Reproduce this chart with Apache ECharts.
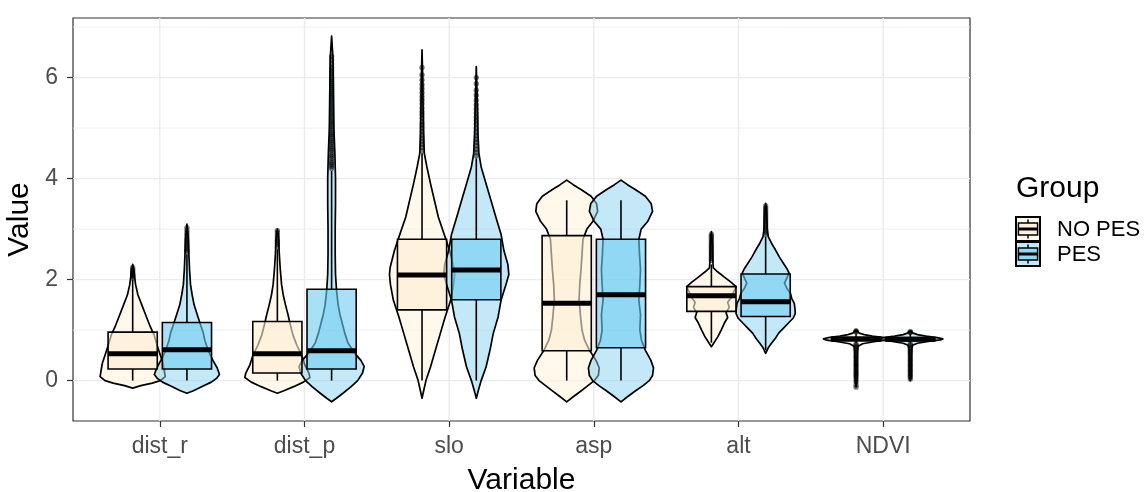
<!DOCTYPE html>
<html><head><meta charset="utf-8">
<script src="https://cdn.jsdelivr.net/npm/echarts@6/dist/echarts.min.js"></script>
<style>html,body{margin:0;padding:0;background:#fff}#c{width:1145px;height:492px}</style>
</head><body><div id="c"></div>
<script>
// ---------- data ----------
const categories = ['dist_r', 'dist_p', 'slo', 'asp', 'alt', 'NDVI'];
const groups = ['NO PES', 'PES'];
const yTicks = [0, 2, 4, 6];
const yMinorTicks = [1, 3, 5, 7];

// boxplot stats: [lower whisker, Q1, median, Q3, upper whisker]
const boxNoPes = [
  [0.0, 0.23, 0.53, 0.96, 2.0],
  [0.0, 0.15, 0.53, 1.17, 2.6],
  [0.0, 1.40, 2.09, 2.80, 4.5],
  [0.0, 0.59, 1.53, 2.87, 3.57],
  [0.75, 1.37, 1.68, 1.86, 2.3],
  [0.74, 0.79, 0.825, 0.855, 0.92]
];
const boxPes = [
  [0.0, 0.23, 0.61, 1.15, 2.5],
  [0.0, 0.23, 0.59, 1.81, 4.15],
  [0.0, 1.60, 2.19, 2.80, 4.4],
  [0.0, 0.65, 1.70, 2.80, 3.57],
  [0.6, 1.27, 1.56, 2.11, 2.85],
  [0.74, 0.79, 0.82, 0.85, 0.92]
];

// violin density profiles: [value, relative density 0..1]
const violinNoPes = [
  [[-0.15,0],[-0.1,0.25],[-0.05,0.6],[0,0.85],[0.08,1],[0.2,0.97],[0.35,0.93],[0.5,0.85],[0.7,0.75],[0.9,0.66],[1.1,0.52],[1.3,0.4],[1.5,0.28],[1.7,0.16],[1.9,0.09],[2.1,0.05],[2.3,0]],
  [[-0.25,0],[-0.2,0.2],[-0.12,0.5],[-0.03,0.8],[0.06,1],[0.15,0.97],[0.3,0.85],[0.5,0.75],[0.7,0.6],[0.9,0.48],[1.1,0.4],[1.3,0.33],[1.5,0.25],[1.7,0.18],[1.9,0.13],[2.2,0.09],[2.5,0.06],[2.8,0.04],[3.0,0]],
  [[-0.35,0],[-0.2,0.05],[0,0.12],[0.27,0.26],[0.6,0.41],[0.93,0.56],[1.26,0.71],[1.59,0.88],[1.9,0.97],[2.1,1],[2.24,0.98],[2.57,0.85],[2.9,0.68],[3.24,0.5],[3.57,0.38],[3.9,0.26],[4.23,0.15],[4.5,0.07],[4.9,0.045],[5.5,0.03],[6.0,0.02],[6.55,0]],
  [[-0.42,0],[-0.32,0.2],[-0.2,0.45],[-0.1,0.65],[0,0.85],[0.1,0.97],[0.25,1],[0.4,0.9],[0.6,0.7],[0.8,0.55],[1.0,0.47],[1.3,0.42],[1.6,0.38],[1.9,0.4],[2.2,0.44],[2.5,0.47],[2.8,0.5],[3.0,0.62],[3.15,0.8],[3.35,0.95],[3.5,0.92],[3.65,0.75],[3.78,0.45],[3.88,0.2],[3.97,0]],
  [[0.67,0],[0.74,0.07],[0.87,0.2],[1.0,0.3],[1.14,0.4],[1.25,0.5],[1.35,0.45],[1.45,0.55],[1.55,0.5],[1.65,0.62],[1.75,0.68],[1.86,0.76],[1.95,0.6],[2.05,0.4],[2.15,0.2],[2.23,0.06],[2.4,0.04],[2.7,0.03],[2.95,0]],
  [[-0.13,0],[0.0,0.03],[0.3,0.03],[0.6,0.04],[0.68,0.06],[0.73,0.2],[0.77,0.55],[0.8,0.9],[0.825,1],[0.85,0.85],[0.88,0.5],[0.91,0.25],[0.94,0.1],[1.0,0]]
];
const violinPes = [
  [[-0.25,0],[-0.2,0.2],[-0.12,0.45],[-0.03,0.75],[0.05,0.92],[0.12,1],[0.25,0.93],[0.4,0.8],[0.6,0.65],[0.8,0.55],[0.95,0.5],[1.1,0.42],[1.28,0.33],[1.5,0.22],[1.7,0.16],[1.9,0.11],[2.2,0.08],[2.5,0.06],[2.8,0.04],[3.1,0]],
  [[-0.42,0],[-0.35,0.15],[-0.25,0.35],[-0.12,0.6],[0,0.8],[0.15,0.95],[0.28,1],[0.4,0.9],[0.55,0.7],[0.75,0.5],[0.95,0.4],[1.15,0.32],[1.3,0.26],[1.5,0.2],[1.8,0.15],[2.1,0.12],[2.5,0.11],[3.0,0.11],[3.5,0.12],[4.0,0.12],[4.5,0.1],[5.0,0.07],[5.5,0.06],[6.0,0.05],[6.4,0.04],[6.82,0]],
  [[-0.35,0],[-0.2,0.06],[0,0.15],[0.27,0.3],[0.6,0.42],[0.93,0.52],[1.26,0.67],[1.59,0.76],[1.9,0.91],[2.1,1],[2.3,0.97],[2.57,0.85],[2.9,0.76],[3.24,0.6],[3.57,0.45],[3.9,0.3],[4.23,0.15],[4.5,0.08],[4.9,0.05],[5.5,0.03],[6.22,0]],
  [[-0.42,0],[-0.32,0.2],[-0.2,0.45],[-0.1,0.68],[0,0.87],[0.1,0.97],[0.25,1],[0.4,0.92],[0.6,0.75],[0.8,0.63],[1.0,0.58],[1.3,0.6],[1.6,0.55],[1.9,0.58],[2.2,0.6],[2.5,0.57],[2.8,0.55],[3.0,0.62],[3.15,0.82],[3.35,0.97],[3.5,0.93],[3.65,0.75],[3.78,0.45],[3.88,0.2],[3.97,0]],
  [[0.54,0],[0.65,0.08],[0.74,0.18],[0.84,0.3],[0.94,0.4],[1.04,0.55],[1.14,0.7],[1.24,0.85],[1.33,0.91],[1.43,0.9],[1.53,0.88],[1.63,0.8],[1.73,0.76],[1.83,0.65],[1.93,0.58],[2.03,0.65],[2.13,0.72],[2.22,0.65],[2.32,0.55],[2.45,0.42],[2.59,0.3],[2.72,0.18],[2.85,0.08],[3.0,0.05],[3.3,0.03],[3.51,0]],
  [[0.0,0],[0.1,0.03],[0.4,0.03],[0.62,0.04],[0.7,0.07],[0.74,0.22],[0.78,0.6],[0.805,0.92],[0.825,1],[0.85,0.82],[0.88,0.48],[0.91,0.22],[0.94,0.09],[0.98,0]]
];

// boxplot outliers
const outliersNoPes = [
  [2.03, 2.06, 2.08, 2.1, 2.12, 2.14, 2.17, 2.2, 2.24],
  [2.65, 2.7, 2.74, 2.78, 2.83, 2.88, 2.93, 2.97],
  [4.55, 4.62, 4.68, 4.74, 4.8, 4.86, 4.93, 5.0, 5.06, 5.12, 5.2, 5.27, 5.33, 5.4, 5.48, 5.55, 5.62, 5.7, 5.78, 5.86, 5.95, 6.05, 6.2],
  [],
  [2.38, 2.42, 2.46, 2.5, 2.54, 2.58, 2.62, 2.66, 2.7, 2.74, 2.78, 2.82, 2.86, 2.9],
  [-0.13, -0.08, -0.02, 0.03, 0.08, 0.11, 0.15, 0.18, 0.22, 0.26, 0.3, 0.33, 0.37, 0.41, 0.45, 0.48, 0.52, 0.56, 0.6, 0.63, 0.67, 0.7, 0.72, 0.96, 0.97, 0.99]
];
const outliersPes = [
  [2.55, 2.58, 2.62, 2.66, 2.7, 2.74, 2.78, 2.82, 2.87, 2.92, 2.97, 3.03],
  [4.2, 4.24, 4.28, 4.31, 4.35, 4.4, 4.44, 4.47, 4.52, 4.56, 4.6, 4.63, 4.68, 4.72, 4.75, 4.8, 4.84, 4.88, 4.91, 4.96, 5.0, 5.04, 5.08, 5.12, 5.15, 5.2, 5.24, 5.28, 5.32, 5.36, 5.4, 5.44, 5.48, 5.52, 5.56, 5.6, 5.64, 5.68, 5.72, 5.76, 5.8, 5.84, 5.88, 5.92, 5.96, 6.0, 6.05, 6.1, 6.15, 6.2, 6.27, 6.35, 6.42],
  [4.45, 4.52, 4.58, 4.65, 4.72, 4.78, 4.85, 4.92, 5.0, 5.08, 5.15, 5.22, 5.3, 5.38, 5.46, 5.55, 5.65, 5.75, 5.88, 6.0],
  [],
  [2.9, 2.94, 2.98, 3.02, 3.06, 3.1, 3.14, 3.18, 3.22, 3.26, 3.3, 3.34, 3.38, 3.42, 3.46],
  [0.03, 0.07, 0.1, 0.14, 0.18, 0.21, 0.25, 0.29, 0.32, 0.36, 0.4, 0.43, 0.47, 0.51, 0.55, 0.58, 0.62, 0.66, 0.7, 0.72, 0.95, 0.96, 0.97]
];

// ---------- styling ----------
const FONT = '"Liberation Sans", Arial, sans-serif';
const DODGE = 0.1875, VIOLIN_HALF = 0.225, BOX_HALF = 0.17;
const violinFill = ['rgba(255,243,218,0.55)', 'rgba(135,212,242,0.5)'];
const boxFill = ['rgba(255,238,210,0.6)', 'rgba(110,205,242,0.6)'];
const catIdx = categories.map((c, i) => i);

function gridLineSeries(vals, horizontal, width) {
  return {
    type: 'custom', silent: true, z: 1,
    data: vals.map(v => horizontal ? [0, v] : [v, 0]),
    renderItem(params, api) {
      const cs = params.coordSys;
      if (horizontal) {
        const y = api.coord([0, api.value(1)])[1];
        return { type: 'line', shape: { x1: cs.x, y1: y, x2: cs.x + cs.width, y2: y }, style: { stroke: '#EBEBEB', lineWidth: width } };
      }
      const x = api.coord([api.value(0), 0])[0];
      return { type: 'line', shape: { x1: x, y1: cs.y, x2: x, y2: cs.y + cs.height }, style: { stroke: '#EBEBEB', lineWidth: width } };
    }
  };
}

function violinSeries(name, profiles, off, fill) {
  return {
    name, type: 'custom', z: 2,
    data: profiles.map((p, i) => [i, p[0][0]]),
    renderItem(params, api) {
      const prof = profiles[params.dataIndex];
      const cat = api.value(0);
      const bw = api.size([1, 0])[0];
      const cx = api.coord([cat, 0])[0] + off * bw;
      const r = [], l = [];
      for (const [v, d] of prof) {
        const y = api.coord([cat, v])[1];
        r.push([cx + d * VIOLIN_HALF * bw, y]);
        l.push([cx - d * VIOLIN_HALF * bw, y]);
      }
      return { type: 'polygon', shape: { points: r.concat(l.reverse()) },
        style: { fill, stroke: '#000', lineWidth: 1.7, lineJoin: 'round' } };
    }
  };
}

function boxSeries(name, boxes, outliers, off, fill) {
  return {
    name, type: 'custom', z: 3,
    data: boxes.map((b, i) => [i].concat(b)),
    renderItem(params, api) {
      const cat = api.value(0);
      const lo = api.value(1), q1 = api.value(2), med = api.value(3), q3 = api.value(4), hi = api.value(5);
      const bw = api.size([1, 0])[0];
      const cx = api.coord([cat, 0])[0] + off * bw;
      const hw = BOX_HALF * bw;
      const Y = v => api.coord([cat, v])[1];
      const children = outliers[params.dataIndex].map(v => ({
        type: 'circle', shape: { cx, cy: Y(v), r: 2.7 }, style: { fill: 'rgba(0,0,0,0.5)' } }));
      children.push({ type: 'line', shape: { x1: cx, y1: Y(q3), x2: cx, y2: Y(hi) }, style: { stroke: '#000', lineWidth: 1.6 } });
      children.push({ type: 'line', shape: { x1: cx, y1: Y(q1), x2: cx, y2: Y(lo) }, style: { stroke: '#000', lineWidth: 1.6 } });
      children.push({ type: 'rect', shape: { x: cx - hw, y: Y(q3), width: 2 * hw, height: Y(q1) - Y(q3) }, style: { fill, stroke: '#000', lineWidth: 1.6 } });
      children.push({ type: 'line', shape: { x1: cx - hw, y1: Y(med), x2: cx + hw, y2: Y(med) }, style: { stroke: '#000', lineWidth: 5 } });
      return { type: 'group', children };
    }
  };
}

// legend drawn as graphic (ggplot boxplot + violin key)
function legendKey(i) {
  const x = 1016, y = 217 + i * 25, s = 24;
  return [
    { type: 'rect', shape: { x, y, width: s, height: s }, style: { fill: violinFill[i], stroke: '#000', lineWidth: 2 } },
    { type: 'rect', shape: { x: x + 2.4, y: y + 6, width: s - 4.8, height: 12 }, style: { fill: boxFill[i], stroke: '#000', lineWidth: 1.5 } },
    { type: 'line', shape: { x1: x + 2.4, y1: y + 12, x2: x + s - 2.4, y2: y + 12 }, style: { stroke: '#000', lineWidth: 3 } },
    { type: 'line', shape: { x1: x + s / 2, y1: y + 2.4, x2: x + s / 2, y2: y + 6 }, style: { stroke: '#000', lineWidth: 1.5 } },
    { type: 'line', shape: { x1: x + s / 2, y1: y + 18, x2: x + s / 2, y2: y + s - 2.4 }, style: { stroke: '#000', lineWidth: 1.5 } },
    { type: 'text', x: 1057, y: y + s / 2 + 1, style: { text: groups[i], fontSize: 22, fontFamily: FONT, fill: '#000', textVerticalAlign: 'middle' } }
  ];
}

const chart = echarts.init(document.getElementById('c'), null, { renderer: 'canvas' });
chart.setOption({
  animation: false,
  backgroundColor: '#fff',
  grid: { left: 73, right: 175, top: 18, bottom: 71, containLabel: false, outerBoundsMode: 'none',
          show: true, borderColor: '#333333', borderWidth: 1.2, backgroundColor: '#fff' },
  xAxis: {
    type: 'value', min: -0.6, max: 5.6,
    axisLine: { show: false, onZero: false }, splitLine: { show: false },
    axisTick: { show: true, customValues: catIdx, length: 6, lineStyle: { color: '#333', width: 1.2 } },
    axisLabel: { customValues: catIdx, formatter: v => categories[Math.round(v)], color: '#4D4D4D', fontSize: 23, fontFamily: FONT, margin: 14 },
    name: 'Variable', nameLocation: 'middle', nameGap: 45,
    nameTextStyle: { fontSize: 30, color: '#000', fontFamily: FONT }
  },
  yAxis: {
    type: 'value', min: -0.8, max: 7.18,
    axisLine: { show: false, onZero: false }, splitLine: { show: false },
    axisTick: { show: true, customValues: yTicks, length: 6, lineStyle: { color: '#333', width: 1.2 } },
    axisLabel: { customValues: yTicks, color: '#4D4D4D', fontSize: 23, fontFamily: FONT, margin: 15 },
    name: 'Value', nameLocation: 'middle', nameRotate: 90, nameGap: 32,
    nameTextStyle: { fontSize: 30, color: '#000', fontFamily: FONT }
  },
  series: [
    gridLineSeries(yMinorTicks, true, 0.8),
    gridLineSeries(yTicks, true, 1.4),
    gridLineSeries(catIdx, false, 1.4),
    violinSeries(groups[0], violinNoPes, -DODGE, violinFill[0]),
    violinSeries(groups[1], violinPes, DODGE, violinFill[1]),
    boxSeries(groups[0], boxNoPes, outliersNoPes, -DODGE, boxFill[0]),
    boxSeries(groups[1], boxPes, outliersPes, DODGE, boxFill[1])
  ],
  graphic: [
    { type: 'text', x: 1016, y: 189, style: { text: 'Group', fontSize: 30, fontFamily: FONT, fill: '#000', textVerticalAlign: 'middle' } }
  ].concat(legendKey(0), legendKey(1))
});
</script></body></html>
